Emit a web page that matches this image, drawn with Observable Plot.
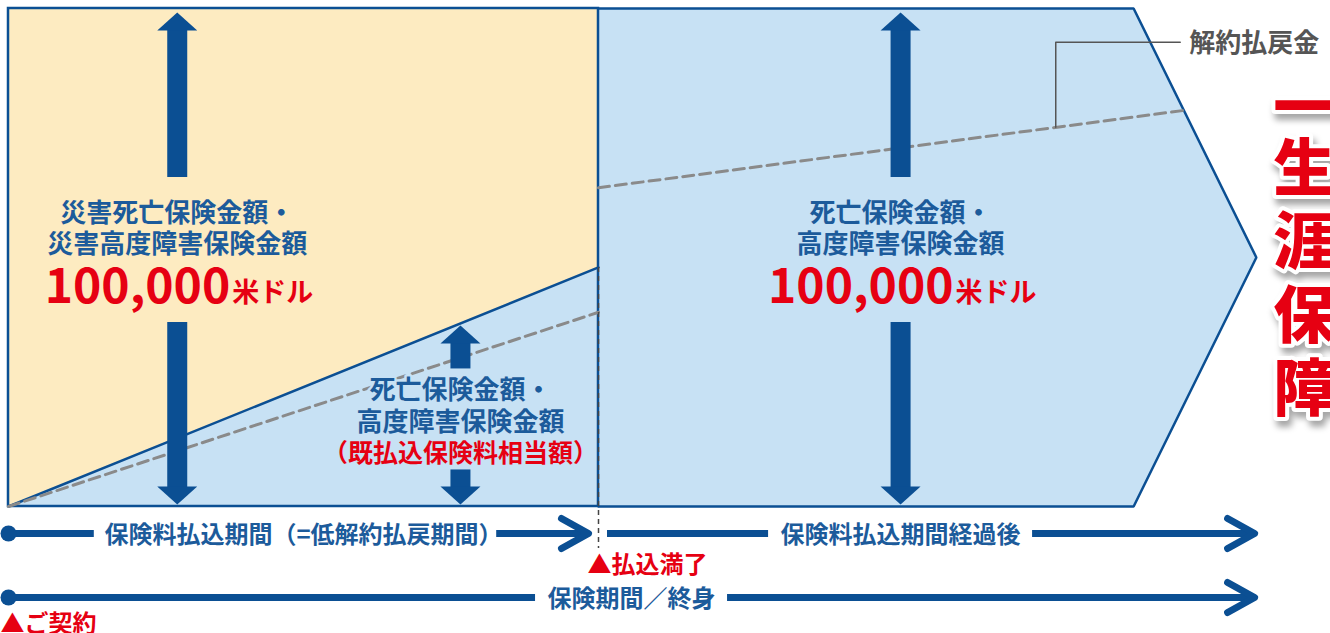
<!DOCTYPE html>
<html><head><meta charset="utf-8">
<script src="https://cdn.jsdelivr.net/npm/d3@7"></script>
<script src="https://cdn.jsdelivr.net/npm/@observablehq/plot@0.6"></script>
<style>
html,body{margin:0;padding:0;background:#fff;}
#chart svg{display:block;}
</style></head><body><div id="chart"></div>
<script>
// ---------------- data ----------------
// time axis in conceptual years: 0 = contract, 10 = premiums fully paid
const milestoneT = [0, 10];
const milestoneLabels = ["▲ご契約", "▲払込満了"];
const phaseStart = [0, 10];
const phaseEnd = [10, 21.12];
const phaseLabels = ["保険料払込期間（=低解約払戻期間）", "保険料払込期間経過後"];
const coverageSpan = [0, 21.12];
const coverageLabel = "保険期間／終身";

// amounts in thousand USD
const benefit = 100;               // 100,000米ドル
const premiumT = [0, 10];
const premiumPaid = [0, 48];       // 既払込保険料相当額
const surrenderT = [0, 10, 10, 19.9];
const surrenderV = [0, 39, 64, 79.5];
const surrenderSeg = ["payment", "payment", "after", "after"];
const lifetimeBodyEnd = 19.07;
const lifetimeTip = 21.15;

const arrowT = [2.86, 7.66, 15.12];
const benefitLines = [
  ["災害死亡保険金額・", "災害高度障害保険金額"],
  ["死亡保険金額・", "高度障害保険金額"],
  ["死亡保険金額・", "高度障害保険金額"]
];
const amountText = "100,000";
const unitText = "米ドル";
const refundLabel = "（既払込保険料相当額）";
const surrenderLabel = "解約払戻金";
const leaderT = [17.75, 17.75, 19.86];
const leaderV = [null, 93.2, 93.2];
const lifetimeChars = ["一", "生涯保障"];

// ---------------- styles ----------------
const navy = "#0b4f93";
const textBlue = "#1c5b9b";
const red = "#e60012";
const yellow = "#fdebc1";
const sky = "#c7e1f4";
const font = "'Noto Sans CJK JP', 'Noto Sans', sans-serif";

const xOpts = {type: "linear", domain: [0, 10], range: [8, 598]};
const yOpts = {type: "linear", domain: [0, 100], range: [506, 8]};
const X = Plot.scale({x: xOpts});
const Y = Plot.scale({y: yOpts});
const px = (t, d) => X.invert(X.apply(t) + d);      // shift by d screen px
const py = (v, d) => Y.invert(Y.apply(v) + d);      // d > 0 : downward

const premiumAt = d3.scaleLinear(premiumT, premiumPaid);
const surrenderAfter = d3.scaleLinear(surrenderT.slice(2), surrenderV.slice(2));

// shapes built from data
const yellowBox = [{x1: milestoneT[0], x2: milestoneT[1], y1: 0, y2: benefit}];
const paidArea = [
  {x: premiumT[0], y: premiumPaid[0]},
  {x: premiumT[1], y: premiumPaid[1]},
  {x: premiumT[1], y: 0}
];
const premiumLine = premiumT.map((t, i) => ({x: t, y: premiumPaid[i]}));
const lifetimeShape = [
  {x: milestoneT[1], y: benefit},
  {x: lifetimeBodyEnd, y: benefit},
  {x: lifetimeTip, y: benefit / 2},
  {x: lifetimeBodyEnd, y: 0},
  {x: milestoneT[1], y: 0}
];
const surrender = surrenderT.map((t, i) => ({x: t, y: surrenderV[i], z: surrenderSeg[i]}));
const leader = leaderT.map((t, i) => ({x: t, y: i === 0 ? surrenderAfter(t) : leaderV[i]}));

// arrows
const headLen = 18, headHalf = 20;
const arrows = arrowT.map((t, i) => {
  const hi = i === 1 ? premiumAt(t) : benefit;
  const gaps = i === 1 ? [-46, 55] : [-80, 65];
  const inset = i === 1 ? 2 : 4;
  const midPx = (Y.apply(hi) + Y.apply(0)) / 2;
  return {t, hi, gaps, inset, mid: Y.invert(midPx), midPx};
});
const shafts = [], heads = [];
arrows.forEach((a, i) => {
  shafts.push({x: a.t, y1: py(a.hi, a.inset + headLen - 1), y2: Y.invert(a.midPx + a.gaps[0])});
  shafts.push({x: a.t, y1: Y.invert(a.midPx + a.gaps[1]), y2: py(0, -2 - headLen + 1)});
  const topBase = py(a.hi, a.inset + headLen);
  heads.push({id: "t" + i, x: px(a.t, -headHalf), y: topBase});
  heads.push({id: "t" + i, x: a.t, y: py(a.hi, a.inset)});
  heads.push({id: "t" + i, x: px(a.t, headHalf), y: topBase});
  const botBase = py(0, -2 - headLen);
  heads.push({id: "b" + i, x: px(a.t, -headHalf), y: botBase});
  heads.push({id: "b" + i, x: a.t, y: py(0, -2)});
  heads.push({id: "b" + i, x: px(a.t, headHalf), y: botBase});
});

// timelines
const tlSize = 24;
const textW = (s, size) => [...s].reduce((w, c) => w + (c.charCodeAt(0) > 0x2000 ? 1 : 0.6) * size, 0);
const row1 = py(0, 27), row2 = py(0, 91);
const segs = [], chevrons = [], tlLabels = [];
function addRow(y, startT, tipT, labelT, label, id, padL, padR) {
  const half = textW(label, tlSize) / 2;
  segs.push({y, x1: startT, x2: px(labelT, -half - padL)});
  segs.push({y, x1: px(labelT, half + padR), x2: px(tipT, -3)});
  chevrons.push({id, x: px(tipT, -27), y: py(y, -15)});
  chevrons.push({id, x: tipT, y});
  chevrons.push({id, x: px(tipT, -27), y: py(y, 15)});
  tlLabels.push({x: labelT, y, label});
}
addRow(row1, phaseStart[0], px(phaseEnd[0], -10), (phaseStart[0] + phaseEnd[0]) / 2, phaseLabels[0], "p0", 10, -6);
addRow(row1, px(phaseStart[1], 9), phaseEnd[1], arrowT[2], phaseLabels[1], "p1", 12, 12);
addRow(row2, coverageSpan[0], coverageSpan[1], (coverageSpan[0] + coverageSpan[1]) / 2, coverageLabel, "c", 12, 12);
const startDots = [{x: coverageSpan[0], y: row1}, {x: coverageSpan[0], y: row2}];
const milestones = [
  {x: px(milestoneT[0], -8), y: py(0, 116), label: milestoneLabels[0]},
  {x: px(milestoneT[1], -11), y: py(0, 57), label: milestoneLabels[1]}
];

// text blocks
const benefitText = [];
arrows.forEach((a, i) => {
  const offs = i === 1 ? [-24.5, 7.5] : [-43.5, -12.5];
  benefitLines[i].forEach((s, j) => benefitText.push({x: a.t, y: a.mid, label: s, dy: offs[j], halo: i === 1}));
});
const bigAmounts = [arrows[0], arrows[2]];
const lifeX = px(lifetimeTip, 48);

const plot = Plot.plot({
  width: 1330,
  height: 633,
  margin: 0,
  x: {...xOpts, axis: null},
  y: {...yOpts, axis: null},
  style: {background: "#ffffff", fontFamily: font},
  marks: [
    Plot.rect(yellowBox, {x1: "x1", x2: "x2", y1: "y1", y2: "y2", fill: yellow}),
    Plot.line(paidArea, {x: "x", y: "y", fill: sky, stroke: null}),
    Plot.line(lifetimeShape, {x: "x", y: "y", fill: sky, stroke: navy, strokeWidth: 2.5, strokeLinejoin: "miter"}),
    Plot.rect(yellowBox, {x1: "x1", x2: "x2", y1: "y1", y2: "y2", fill: "none", stroke: navy, strokeWidth: 2.5}),
    Plot.line(premiumLine, {x: "x", y: "y", stroke: navy, strokeWidth: 2.5}),
    Plot.line(surrender, {x: "x", y: "y", z: "z", stroke: "#8a8a8a", strokeWidth: 3, strokeDasharray: "11,6"}),
    Plot.ruleX([milestoneT[1]], {y1: premiumPaid[1], y2: py(0, 42), stroke: "#444", strokeWidth: 1.5, strokeDasharray: "5,4"}),
    Plot.line(leader, {x: "x", y: "y", stroke: "#555", strokeWidth: 1.5}),
    Plot.text([surrenderLabel], {x: leaderT[2], y: leaderV[2], text: d => d, dx: 9, dy: 1.5, textAnchor: "start", fontSize: 26, fontWeight: 700, fill: "#555"}),

    // arrows
    Plot.ruleX(shafts, {x: "x", y1: "y1", y2: "y2", stroke: navy, strokeWidth: 20}),
    Plot.line(heads, {x: "x", y: "y", z: "id", fill: navy, stroke: null}),

    // benefit texts
    ...benefitText.map(d => Plot.text([d], {x: "x", y: "y", text: "label", dy: d.dy, fontSize: 26, fontWeight: 700, fill: textBlue,
      stroke: d.halo ? sky : null, strokeWidth: 5, paintOrder: "stroke"})),
    Plot.text(bigAmounts, {x: "t", y: "mid", text: () => amountText, dx: 53, dy: 30, textAnchor: "end", fontSize: 48, fontWeight: 700, fill: red}),
    Plot.text(bigAmounts, {x: "t", y: "mid", text: () => unitText, dx: 55, dy: 35.5, textAnchor: "start", fontSize: 27, fontWeight: 700, fill: red}),
    Plot.text([arrows[1]], {x: "t", y: "mid", text: () => refundLabel, dy: 39.5, fontSize: 25, fontWeight: 700, fill: red, stroke: sky, strokeWidth: 5, paintOrder: "stroke"}),

    // 一生涯保障 (white-outlined red text with a soft drop shadow)
    Plot.text([lifetimeChars[0]], {x: lifeX, y: py(benefit / 2, -147), text: d => d, fontSize: 62, fontWeight: 900, fill: red, stroke: "#fff", strokeWidth: 8, strokeLinejoin: "round", paintOrder: "stroke"}),
    Plot.text([lifetimeChars[1].split("").join("\n")], {x: lifeX, y: py(benefit / 2, 20), text: d => d, lineHeight: 1.18, fontSize: 62, fontWeight: 900, fill: red, stroke: "#fff", strokeWidth: 8, strokeLinejoin: "round", paintOrder: "stroke"}),

    // timelines
    Plot.ruleY(segs, {y: "y", x1: "x1", x2: "x2", stroke: navy, strokeWidth: 7}),
    Plot.line(chevrons, {x: "x", y: "y", z: "id", stroke: navy, strokeWidth: 7, strokeLinecap: "round", strokeLinejoin: "round"}),
    Plot.dot(startDots, {x: "x", y: "y", r: 8, fill: navy, stroke: null}),
    Plot.text(tlLabels, {x: "x", y: "y", text: "label", dy: 1.5, fontSize: tlSize, fontWeight: 700, fill: textBlue}),
    Plot.text(milestones, {x: "x", y: "y", text: "label", dy: 1.5, textAnchor: "start", fontSize: 24, fontWeight: 700, fill: red})
  ]
});
// soft drop shadow on the large vertical caption
plot.querySelectorAll('g[font-size="62"]').forEach(g => {
  g.style.filter = "drop-shadow(3px 6px 3px rgba(0,0,0,0.35))";
});
document.getElementById("chart").appendChild(plot);
</script>
</body></html>
